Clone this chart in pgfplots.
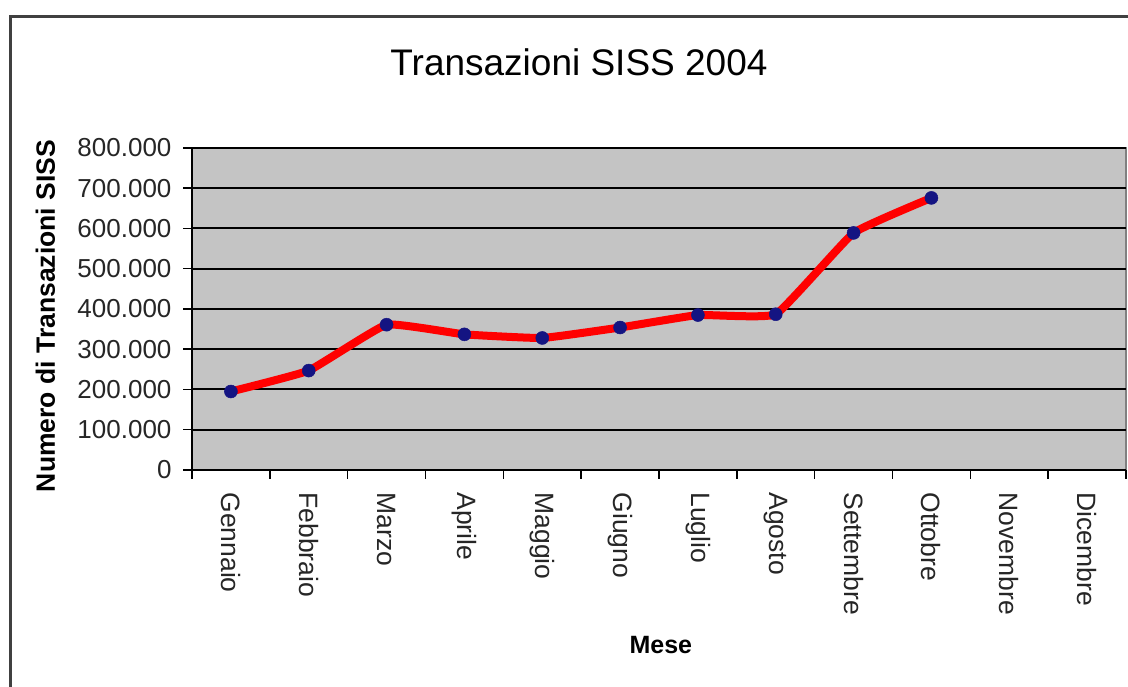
\documentclass[border=0pt]{standalone}
\usepackage{fontspec}
\setmainfont{Liberation Sans}
\usepackage{pgfplots}
\pgfplotsset{compat=1.18}
\definecolor{plotgray}{RGB}{196,196,196}
\definecolor{navy}{RGB}{20,20,130}
\begin{document}
\begin{tikzpicture}
\useasboundingbox (0,0) rectangle (1128pt,687pt);
\fill[white] (0,0) rectangle (1128pt,687pt);
\draw[line width=3pt, black!75] (10pt,-10pt) -- (10pt,670pt) -- (1140pt,670pt);
\node[font=\fontsize{37}{40}\selectfont] at (579pt,625pt) {Transazioni SISS 2004};
\begin{axis}[
  at={(192pt,217pt)}, anchor=south west,
  width=934pt, height=322pt, scale only axis,
  xmin=0.5, xmax=12.5, ymin=0, ymax=800000,
  xtick={0.5,1.5,...,12.5},
  x tick label as interval,
  xticklabels={Gennaio,Febbraio,Marzo,Aprile,Maggio,Giugno,Luglio,Agosto,Settembre,Ottobre,Novembre,Dicembre},
  ytick={0,100000,...,800000},
  scaled y ticks=false,
  ymajorgrids, grid style={black, line width=2pt},
  axis x line*=bottom, axis y line*=left,
  axis line style={-, black, line width=2pt},
  axis background/.style={fill=plotgray, draw=gray, line width=1.5pt},
  tick align=outside, major tick length=9pt,
  tick style={black, line width=1.5pt},
  yticklabel style={font=\fontsize{26}{26}\selectfont, text=black!85, xshift=-8pt},
  /pgf/number format/.cd, fixed, precision=0, 1000 sep={.}, assume math mode=true,
  /pgfplots/.cd,
  xticklabel style={font=\fontsize{26.5}{26.5}\selectfont, text=black!85, rotate=-90, anchor=west, xshift=10pt},
  xlabel={Mese},
  xlabel style={font=\bfseries\fontsize{25}{25}\selectfont, at={(axis description cs:0.502,-0.543)}, anchor=center},
  ylabel={Numero di Transazioni SISS},
  ylabel style={font=\bfseries\fontsize{26.5}{26.5}\selectfont, at={(axis description cs:-0.157,0.478)}, anchor=center, rotate=0},
  clip=false,
]
\addplot[red, line width=8pt, smooth, tension=0.2, line join=round, line cap=round,
  mark=*, mark size=6.5pt, mark options={fill=navy, draw=navy, line width=0.5pt}]
  coordinates {
  (1,195000) (2,247000) (3,361000) (4,337000) (5,328000)
  (6,354000) (7,385000) (8,387000) (9,589000) (10,676000)
  };
\end{axis}
\end{tikzpicture}
\end{document}
